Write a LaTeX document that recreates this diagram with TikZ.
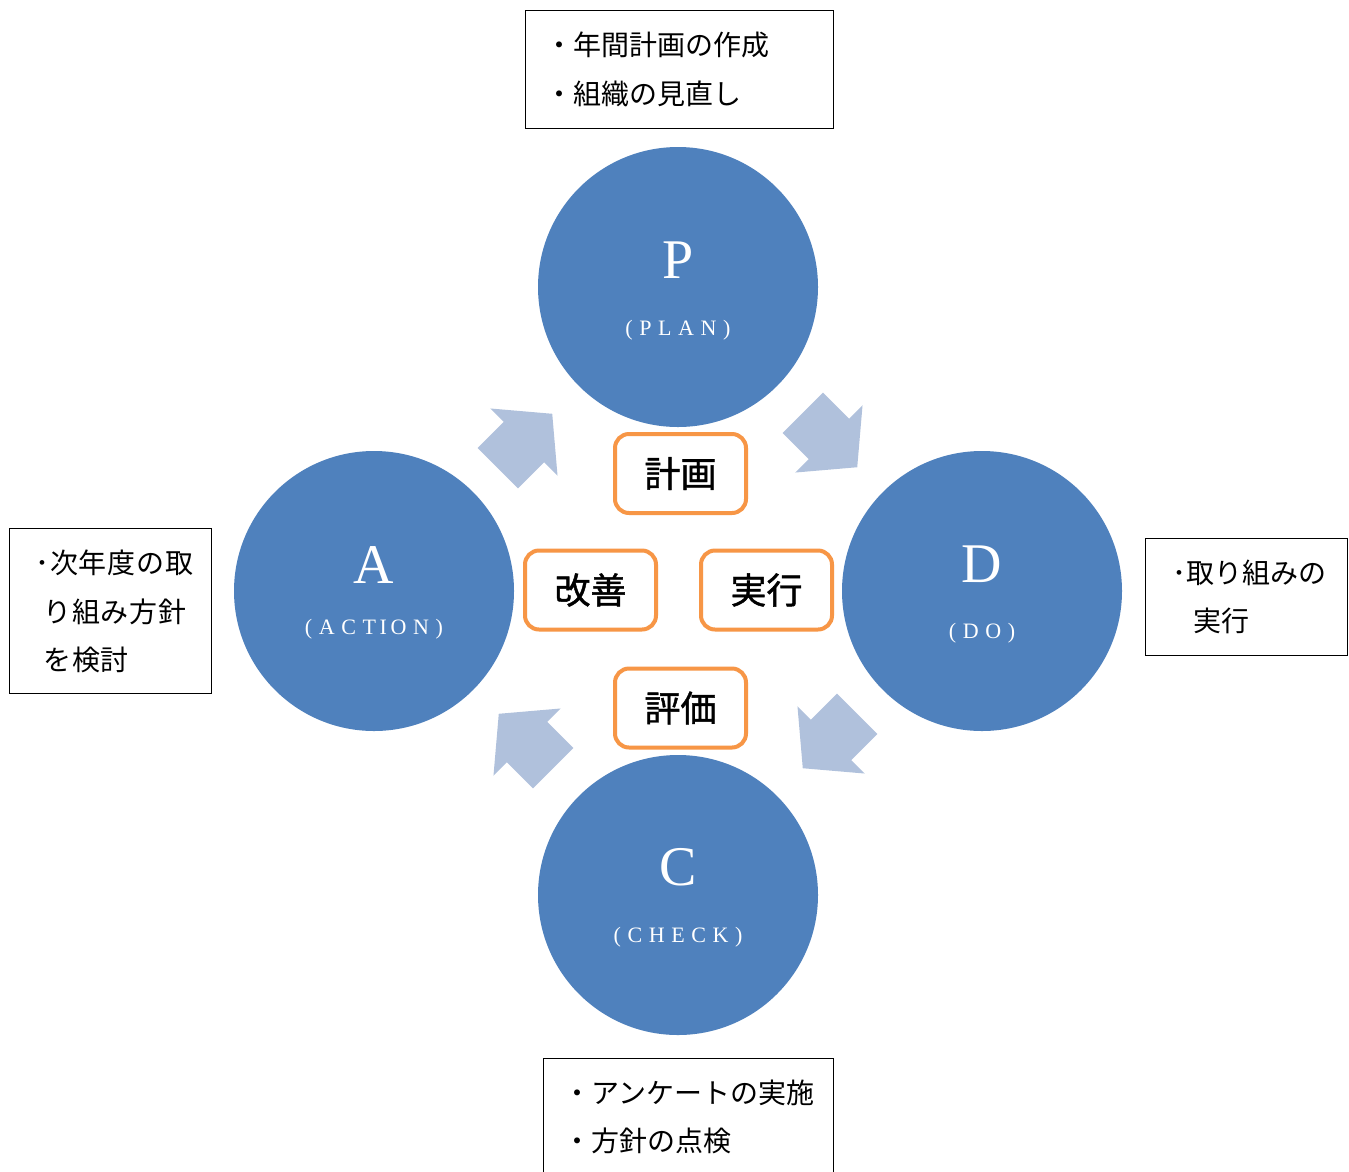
\documentclass[tikz,border=0pt]{standalone}
\usepackage{fontspec}
\setmainfont{Liberation Serif}
\newfontfamily\jp{Noto Sans CJK JP}
\newfontfamily\jpbold{Noto Sans CJK JP}[FakeBold=1.2]
\newfontfamily\jpwide{Noto Sans CJK JP}[LetterSpace=3]
\newfontfamily\spaced{Liberation Serif}[LetterSpace=30]
\definecolor{circblue}{HTML}{4F81BD}
\definecolor{arrowblue}{HTML}{B0C1DC}
\definecolor{boxorange}{HTML}{F79646}
\tikzset{
  circ/.style={circle, fill=circblue, minimum size=280pt, inner sep=0pt},
  bigletter/.style={text=white, font=\fontsize{56}{56}\selectfont, inner sep=0pt},
  subletter/.style={text=white, font=\spaced\fontsize{22}{22}\selectfont, inner sep=0pt},
  stagebox/.style={draw=boxorange, line width=4pt, rounded corners=14pt, fill=white,
     minimum width=131pt, minimum height=79pt, font=\jpbold\fontsize{36}{36}\selectfont, inner sep=0pt},
  notebox/.style={draw=black, line width=1pt, fill=white, inner sep=0pt},
  notetext/.style={anchor=west, inner sep=0pt, font=\jp\fontsize{28}{28}\selectfont},
  widetext/.style={anchor=west, inner sep=0pt, font=\jpwide\fontsize{28}{28}\selectfont},
  blockarrow/.pic={\fill[arrowblue] (-38.5,-28.5) -- (-1.5,-28.5) -- (-1.5,-47.5) -- (38.5,0)
      -- (-1.5,47.5) -- (-1.5,28.5) -- (-38.5,28.5) -- cycle;}
}
\begin{document}
\begin{tikzpicture}[x=1pt,y=-1pt]
\clip (0,0) rectangle (1349,1171);
\fill[white] (0,0) rectangle (1349,1171);

% circles
\node[circ] (P) at (678,287) {};
\node[circ] (D) at (982,591) {};
\node[circ] (C) at (678,895) {};
\node[circ] (A) at (374,591) {};

\node[bigletter] (Pl) at (678,260) {P};
\node[subletter] (Ps) at (678,330) {(PLAN)};
\node[bigletter] (Dl) at (982,564) {D};
\node[subletter] (Ds) at (982,633) {(DO)};
\node[bigletter] (Cl) at (678,867) {C};
\node[subletter] (Cs) at (678,937) {(CHECK)};
\node[bigletter] (Al) at (374,565) {A};
\node[subletter] (As) at (374,629) {(ACT\,I\,ON)};

% block arrows
\pic[rotate=-45] at (830,440) {blockarrow};
\pic[rotate=-135] at (830,741) {blockarrow};
\pic[rotate=135] at (526,741) {blockarrow};
\pic[rotate=45] at (525,441) {blockarrow};

% stage boxes
\node[stagebox] (plan) at (680.5,473.5) {計画};
\node[stagebox] (act) at (590.5,590) {改善};
\node[stagebox] (do) at (766.5,590) {実行};
\node[stagebox] (check) at (680.5,708) {評価};

% note boxes
\node[notebox, minimum width=308pt, minimum height=118pt] (ntop) at (679,69) {};
\node[notetext] (nt1) at (545,45) {・年間計画の作成};
\node[notetext] (nt2) at (545,94) {・組織の見直し};

\node[notebox, minimum width=202pt, minimum height=165pt] (nleft) at (110,610.5) {};
\node[widetext] (nl1) at (35,563) {･次年度の取};
\node[widetext] (nl2) at (43,612) {り組み方針};
\node[widetext] (nl3) at (43,660) {を検討};

\node[notebox, minimum width=202pt, minimum height=117pt] (nright) at (1246,596.5) {};
\node[notetext] (nr1) at (1172,573) {･取り組みの};
\node[notetext] (nr2) at (1193,621) {実行};

\node[notebox, minimum width=290pt, minimum height=130pt] (nbot) at (688,1123) {};
\node[notetext] (nb1) at (563,1093) {・アンケートの実施};
\node[notetext] (nb2) at (563,1141) {・方針の点検};
\end{tikzpicture}
\end{document}
